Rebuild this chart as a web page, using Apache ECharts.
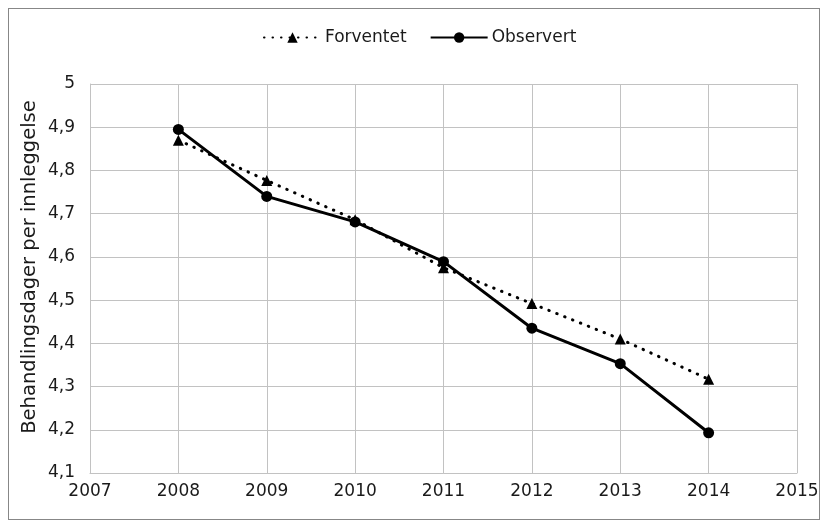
<!DOCTYPE html>
<html>
<head>
<meta charset="utf-8">
<script src="https://cdn.jsdelivr.net/npm/echarts@6/dist/echarts.min.js"></script>
<style>
  html, body { margin: 0; padding: 0; background: #fff; }
  #frame { position: absolute; left: 8px; top: 8px; width: 812px; height: 512px; box-sizing: border-box; border: 1px solid #878787; }
  #chart { position: absolute; left: 0; top: 0; width: 828px; height: 528px; }
</style>
</head>
<body>
<div id="frame"></div>
<div id="chart"></div>
<script>
// Behandlingsdager per innleggelse, 2008–2014
const years = [2008, 2009, 2010, 2011, 2012, 2013, 2014];
const forventet = [4.870, 4.777, 4.686, 4.575, 4.492, 4.410, 4.317];
const observert = [4.895, 4.740, 4.681, 4.589, 4.435, 4.353, 4.193];
const yTicks = { min: 4.1, max: 5.0, step: 0.1 };
const xTicks = { min: 2007, max: 2015, step: 1 };
const yTitle = 'Behandlingsdager per innleggelse';

const font = '"DejaVu Sans", "Liberation Sans", sans-serif';
const ink = '#1a1a1a';
const gridGray = '#c2c2c2';
const chart = echarts.init(document.getElementById('chart'), null, { renderer: 'canvas' });

chart.setOption({
  animation: false,
  backgroundColor: 'transparent',
  legend: {
    top: 24,
    left: 258,
    itemGap: 23,
    itemWidth: 57,
    itemHeight: 13,
    textStyle: { fontFamily: font, fontSize: 17, color: ink, padding: [0, 0, 0, -1] },
    data: ['Forventet', 'Observert']
  },
  grid: { left: 90, right: 31, top: 84, bottom: 55, containLabel: false },
  graphic: [{
    type: 'text',
    x: 30,
    y: 267,
    rotation: Math.PI / 2,
    style: {
      text: yTitle,
      fontFamily: font,
      fontSize: 19.5,
      fill: ink,
      align: 'center',
      verticalAlign: 'middle'
    }
  }],
  xAxis: {
    type: 'value',
    min: xTicks.min,
    max: xTicks.max,
    interval: xTicks.step,
    axisLine: { show: true, lineStyle: { color: gridGray, width: 1 } },
    axisTick: { show: false },
    splitLine: { show: true, lineStyle: { color: gridGray, width: 1 } },
    axisLabel: { fontFamily: font, fontSize: 17, color: ink, margin: 10, formatter: v => String(v) }
  },
  yAxis: {
    type: 'value',
    min: yTicks.min,
    max: yTicks.max,
    interval: yTicks.step,
    axisLine: { show: true, lineStyle: { color: gridGray, width: 1 } },
    axisTick: { show: false },
    splitLine: { show: true, lineStyle: { color: gridGray, width: 1 } },
    axisLabel: {
      fontFamily: font, fontSize: 17, color: ink, margin: 15,
      formatter: v => (Math.round(v * 10) / 10).toString().replace('.', ',')
    }
  },
  series: [
    {
      name: 'Forventet',
      type: 'line',
      data: years.map((y, i) => [y, forventet[i]]),
      symbol: 'triangle',
      symbolSize: 11,
      itemStyle: { color: '#000' },
      lineStyle: { color: '#000', width: 3, type: [0.5, 8], cap: 'round' },
      z: 2
    },
    {
      name: 'Observert',
      type: 'line',
      data: years.map((y, i) => [y, observert[i]]),
      symbol: 'circle',
      symbolSize: 11,
      itemStyle: { color: '#000' },
      lineStyle: { color: '#000', width: 3 },
      z: 3
    }
  ]
});
</script>
</body>
</html>
